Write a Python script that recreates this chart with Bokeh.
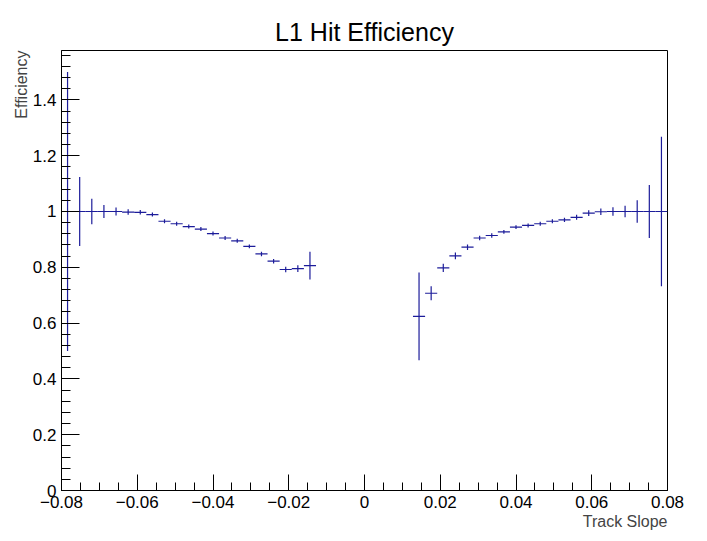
import numpy as np
from bokeh.plotting import figure
from bokeh.models import FixedTicker, Title
from bokeh.embed import file_html
from bokeh.resources import INLINE

# 50 bins from -0.08 to 0.08; nan = empty bin
n_bins = 50
x_lo, x_hi = -0.08, 0.08
eff = [1.0, 1.0, 1.0, 1.0, 1.0, 0.998, 0.997, 0.989, 0.965, 0.956,
       0.946, 0.937, 0.921, 0.905, 0.895, 0.875, 0.848, 0.822, 0.792, 0.795,
       0.806, np.nan, np.nan, np.nan, np.nan, np.nan, np.nan, np.nan, np.nan, 0.624,
       0.707, 0.798, 0.841, 0.872, 0.905, 0.914, 0.927, 0.944, 0.950, 0.956,
       0.965, 0.970, 0.979, 0.994, 0.999, 1.0, 1.0, 1.0, 1.0, 1.0]
err = [0.5, 0.124, 0.046, 0.023, 0.014, 0.01, 0.008, 0.007, 0.007, 0.007,
       0.007, 0.007, 0.007, 0.007, 0.007, 0.007, 0.008, 0.008, 0.01, 0.012,
       0.05, 0, 0, 0, 0, 0, 0, 0, 0, 0.157,
       0.025, 0.015, 0.012, 0.01, 0.008, 0.008, 0.007, 0.007, 0.007, 0.007,
       0.007, 0.008, 0.009, 0.01, 0.012, 0.015, 0.021, 0.04, 0.095, 0.268]

edges = np.linspace(x_lo, x_hi, n_bins + 1)
centers = 0.5 * (edges[:-1] + edges[1:])
eff_a = np.array(eff)
err_a = np.array(err)
ok = ~np.isnan(eff_a)

p = figure(width=700, height=535, output_backend="svg", toolbar_location=None,
           x_range=(x_lo, x_hi), y_range=(0, 1.577),
           min_border_left=61, min_border_right=33, min_border_top=50, min_border_bottom=45)
p.title.text = "L1 Hit Efficiency"
p.title.align = "center"
p.title.text_font = "Liberation Sans"
p.title.text_font_size = "25px"
p.title.text_font_style = "normal"
p.title.text_color = "black"
p.grid.visible = False
p.outline_line_color = "black"
p.outline_line_width = 1

col = "#1c1c9a"
p.segment(edges[:-1][ok], eff_a[ok], edges[1:][ok], eff_a[ok], line_color=col, line_width=1.2)
p.segment(centers[ok], (eff_a - err_a)[ok], centers[ok], (eff_a + err_a)[ok], line_color=col, line_width=1.2)

x_major = [-0.08, -0.06, -0.04, -0.02, 0, 0.02, 0.04, 0.06, 0.08]
x_labels = ["\u22120.08", "\u22120.06", "\u22120.04", "\u22120.02", "0", "0.02", "0.04", "0.06", "0.08"]
y_major = [0, 0.2, 0.4, 0.6, 0.8, 1.0, 1.2, 1.4]
y_labels = ["0", "0.2", "0.4", "0.6", "0.8", "1", "1.2", "1.4"]

p.xaxis.ticker = FixedTicker(ticks=x_major, minor_ticks=list(np.round(np.arange(-0.08, 0.0801, 0.005), 4)))
p.yaxis.ticker = FixedTicker(ticks=y_major, minor_ticks=list(np.round(np.arange(0, 1.58, 0.04), 3)))
p.xaxis.major_label_overrides = {v: t for v, t in zip(x_major, x_labels)}
p.yaxis.major_label_overrides = {v: t for v, t in zip(y_major, y_labels)}
for ax in (p.xaxis, p.yaxis):
    ax.major_tick_in = 16
    ax.major_tick_out = 0
    ax.minor_tick_in = 8
    ax.minor_tick_out = 0
    ax.axis_line_color = "black"
    ax.major_label_text_font = "Liberation Sans"
    ax.major_label_text_font_size = "17px"
    ax.major_label_text_color = "black"
p.yaxis.major_tick_in = 18
p.yaxis.minor_tick_in = 9

p.add_layout(Title(text="Track Slope", align="right", text_font="Liberation Sans",
                   text_font_size="16px", text_font_style="normal", standoff=0), "below")
p.add_layout(Title(text="Efficiency", align="right", text_font="Liberation Sans",
                   text_font_size="16px", text_font_style="normal", standoff=0), "left")

open("out.html", "w").write(file_html(p, INLINE))
